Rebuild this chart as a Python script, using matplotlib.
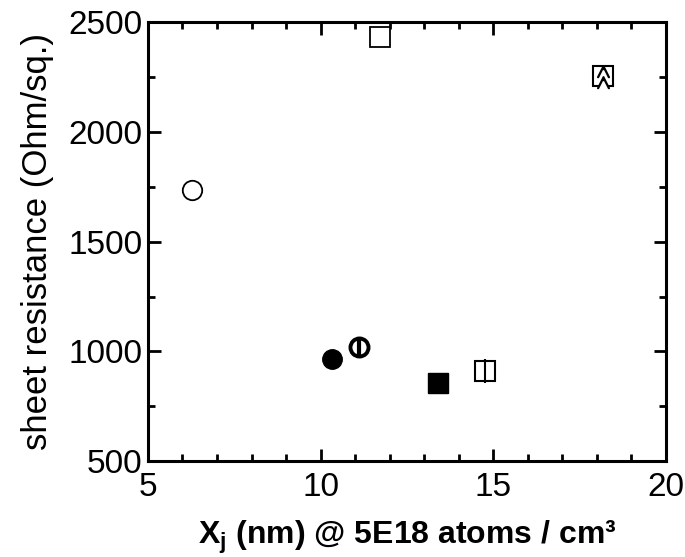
import matplotlib
matplotlib.use("Agg")
import matplotlib.pyplot as plt
from matplotlib.ticker import MultipleLocator

plt.rcParams['font.family'] = ['Liberation Sans', 'DejaVu Sans']
plt.rcParams['mathtext.fontset'] = 'custom'
plt.rcParams['mathtext.rm'] = 'Liberation Sans'
plt.rcParams['mathtext.bf'] = 'Liberation Sans:bold'

# junction depth (nm) and sheet resistance (Ohm/sq.) for each sample
open_circle = (6.27, 1735)
filled_circle = (10.32, 965)
split_circle = (11.12, 1020)
open_square = (11.72, 2435)
filled_square = (13.41, 858)
split_square = (14.77, 912)
chevron_square = (18.19, 2255)

fig = plt.figure(figsize=(6.85, 5.57), dpi=100)
ax = fig.add_axes([0.216, 0.172, 0.756, 0.788])

ms = 14
ax.plot(*open_circle, 'o', ms=ms, mfc='white', mec='black', mew=1.3)
ax.plot(*filled_circle, 'o', ms=ms, mfc='black', mec='black')
ax.plot(*split_circle, 'o', ms=ms - 1, mfc='white', mec='black', mew=2.8)
ax.plot(*split_circle, '|', ms=ms - 2, mec='black', mew=3)
ax.plot(*open_square, 's', ms=ms, mfc='white', mec='black', mew=1.3)
ax.plot(*filled_square, 's', ms=ms, mfc='black', mec='black')
ax.plot(*split_square, 's', ms=ms, mfc='white', mec='black', mew=1.5)
ax.plot(*split_square, '|', ms=ms + 3, mec='black', mew=1.5)
ax.plot(*chevron_square, 's', ms=ms, mfc='white', mec='black', mew=1.5)
ax.plot(chevron_square[0], chevron_square[1] + 25, '^', ms=9, mfc='black', mec='black')
ax.plot(chevron_square[0], chevron_square[1] + 5, '^', ms=7, mfc='white', mec='white')
ax.plot(chevron_square[0], chevron_square[1] - 25, '^', ms=9, mfc='black', mec='black')
ax.plot(chevron_square[0], chevron_square[1] - 45, '^', ms=7, mfc='white', mec='white')

ax.set_xlim(5, 20)
ax.set_ylim(500, 2500)
ax.xaxis.set_major_locator(MultipleLocator(5))
ax.xaxis.set_minor_locator(MultipleLocator(1))
ax.yaxis.set_major_locator(MultipleLocator(500))
ax.yaxis.set_minor_locator(MultipleLocator(250))

for s in ax.spines.values():
    s.set_linewidth(2.2)
ax.tick_params(which='both', direction='in', top=True, right=True, width=2)
ax.tick_params(which='major', length=9, labelsize=24, pad=4)
ax.tick_params(which='minor', length=5)
ax.tick_params(axis='x', pad=8)

ax.set_ylabel('sheet resistance (Ohm/sq.)', fontsize=25, labelpad=10)
ax.set_xlabel(r'$\mathbf{X_j}$ (nm) @ 5E18 atoms / cm³', fontsize=23,
              fontweight='bold', labelpad=11)

fig.savefig('out.png', dpi=100)
